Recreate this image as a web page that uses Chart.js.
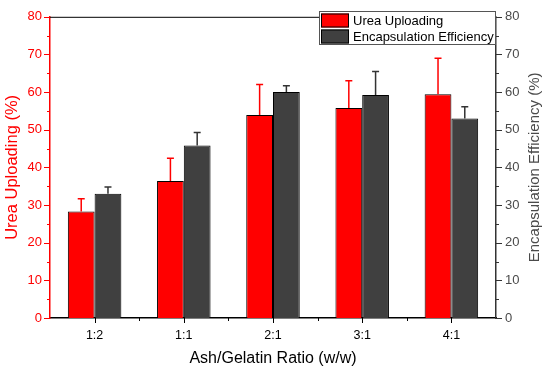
<!DOCTYPE html>
<html>
<head>
<meta charset="utf-8">
<script src="https://cdn.jsdelivr.net/npm/chart.js@4/dist/chart.umd.min.js"></script>
<style>
  html, body { margin: 0; padding: 0; background: #fff; }
  #wrap { width: 550px; height: 371px; }
</style>
</head>
<body>
<div id="wrap"><canvas id="chart" width="550" height="371"></canvas></div>
<script>
const categories = ['1:2', '1:1', '2:1', '3:1', '4:1'];
const ureaValues = [28.3, 36.4, 53.9, 55.8, 59.4];
const ureaErrors = [3.4, 6.0, 8.1, 7.2, 9.6];
const encapValues = [33.0, 45.8, 60.0, 59.2, 53.0];
const encapErrors = [1.8, 3.5, 1.7, 6.3, 3.1];

const RED = '#ff0000';
const DARK = '#404040';
const GREY_TEXT = '#4a4a4a';
const FONT = "'Liberation Sans', Arial, sans-serif";

// upper error bars with caps
const errorBars = {
    id: 'errorBars',
    afterDatasetsDraw(chart) {
        const ctx = chart.ctx;
        chart.data.datasets.forEach((ds, i) => {
            const meta = chart.getDatasetMeta(i);
            const yScale = chart.scales[ds.yAxisID];
            meta.data.forEach((bar, j) => {
                const top = yScale.getPixelForValue(ds.data[j] + ds.errors[j]);
                ctx.save();
                ctx.strokeStyle = ds.errorColor;
                ctx.lineWidth = 1.5;
                ctx.beginPath();
                ctx.moveTo(bar.x, bar.y);
                ctx.lineTo(bar.x, top);
                ctx.moveTo(bar.x - 3.5, top);
                ctx.lineTo(bar.x + 3.5, top);
                ctx.stroke();
                ctx.restore();
            });
        });
    }
};

// tick marks (major + minor), top border, right title and boxed legend
const frame = {
    id: 'frame',
    afterDraw(chart) {
        const ctx = chart.ctx;
        const area = chart.chartArea;
        const y = chart.scales.y;
        const y1 = chart.scales.y1;
        const x = chart.scales.x;
        ctx.save();
        ctx.lineWidth = 1;

        ctx.strokeStyle = '#000';
        ctx.beginPath();
        ctx.moveTo(area.left, area.top + 0.5);
        ctx.lineTo(area.right, area.top + 0.5);
        ctx.stroke();

        for (let v = 0; v <= 80; v += 5) {
            const len = v % 10 === 0 ? 6 : 3;
            let py = Math.round(y.getPixelForValue(v)) + 0.5;
            ctx.strokeStyle = RED;
            ctx.beginPath();
            ctx.moveTo(area.left, py);
            ctx.lineTo(area.left - len, py);
            ctx.stroke();
            py = Math.round(y1.getPixelForValue(v)) + 0.5;
            ctx.strokeStyle = '#333';
            ctx.beginPath();
            ctx.moveTo(area.right, py);
            ctx.lineTo(area.right + len, py);
            ctx.stroke();
        }

        ctx.strokeStyle = '#000';
        categories.forEach((c, i) => {
            const px = Math.round(x.getPixelForValue(i)) + 0.5;
            ctx.beginPath();
            ctx.moveTo(px, area.bottom);
            ctx.lineTo(px, area.bottom + 5);
            ctx.stroke();
            if (i > 0) {
                const mx = Math.round((x.getPixelForValue(i - 1) + x.getPixelForValue(i)) / 2) + 0.5;
                ctx.beginPath();
                ctx.moveTo(mx, area.bottom);
                ctx.lineTo(mx, area.bottom + 3);
                ctx.stroke();
            }
        });

        // right axis title, reading bottom to top
        ctx.save();
        ctx.translate(535, (area.top + area.bottom) / 2);
        ctx.rotate(-Math.PI / 2);
        ctx.fillStyle = GREY_TEXT;
        ctx.font = '15px ' + FONT;
        ctx.textAlign = 'center';
        ctx.textBaseline = 'middle';
        ctx.fillText('Encapsulation Efficiency (%)', 0, 0);
        ctx.restore();

        // legend
        const lx = 319, ly = 11, lw = area.right - 319, lh = 34;
        ctx.fillStyle = '#fff';
        ctx.fillRect(lx, ly, lw, lh);
        ctx.strokeStyle = '#555';
        ctx.strokeRect(lx + 0.5, ly + 0.5, lw - 1, lh - 1);
        chart.data.datasets.forEach((ds, i) => {
            const sy = ly + 2.5 + i * 16;
            ctx.fillStyle = ds.backgroundColor;
            ctx.fillRect(321, sy, 28, 14);
            ctx.strokeStyle = '#000';
            ctx.strokeRect(321.5, sy + 0.5, 27, 13);
            ctx.fillStyle = '#000';
            ctx.font = '13px ' + FONT;
            ctx.textBaseline = 'middle';
            ctx.textAlign = 'left';
            ctx.fillText(ds.label, 353, sy + 7.5);
        });
        ctx.restore();
    }
};

new Chart(document.getElementById('chart'), {
    type: 'bar',
    data: {
        labels: categories,
        datasets: [
            {
                label: 'Urea Uploading',
                data: ureaValues,
                errors: ureaErrors,
                errorColor: RED,
                backgroundColor: RED,
                borderColor: '#000',
                borderWidth: 1,
                yAxisID: 'y'
            },
            {
                label: 'Encapsulation Efficiency',
                data: encapValues,
                errors: encapErrors,
                errorColor: '#333',
                backgroundColor: DARK,
                borderColor: '#000',
                borderWidth: 1,
                yAxisID: 'y1'
            }
        ]
    },
    options: {
        responsive: false,
        animation: false,
        categoryPercentage: 0.6,
        barPercentage: 1.0,
        layout: { padding: { top: 11, left: 0, right: 0, bottom: 0 } },
        plugins: {
            legend: { display: false },
            tooltip: { enabled: false }
        },
        scales: {
            x: {
                grid: { display: false, drawTicks: false },
                border: { display: true, color: '#000', width: 1.5 },
                ticks: { color: '#000', padding: 10, font: { family: FONT, size: 12.5 } },
                title: { display: true, text: 'Ash/Gelatin Ratio (w/w)', color: '#000', font: { family: FONT, size: 16 }, padding: { top: 2, bottom: 3 } },
                afterFit(s) { s.height = 53; }
            },
            y: {
                position: 'left',
                min: 0, max: 80,
                grid: { display: false, drawTicks: false },
                border: { display: true, color: RED, width: 1.5 },
                ticks: { stepSize: 10, color: RED, padding: 8, font: { family: FONT, size: 13 } },
                title: { display: true, text: 'Urea Uploading (%)', color: RED, font: { family: FONT, size: 16.5 }, padding: { top: 3, bottom: 2 } },
                afterFit(s) { s.width = 50; }
            },
            y1: {
                position: 'right',
                min: 0, max: 80,
                grid: { display: false, drawTicks: false },
                border: { display: true, color: '#333', width: 1.5 },
                ticks: { stepSize: 10, color: GREY_TEXT, padding: 9, font: { family: FONT, size: 13 } },
                title: { display: false },
                afterFit(s) { s.width = 54; }
            }
        }
    },
    plugins: [errorBars, frame]
});
</script>
</body>
</html>
